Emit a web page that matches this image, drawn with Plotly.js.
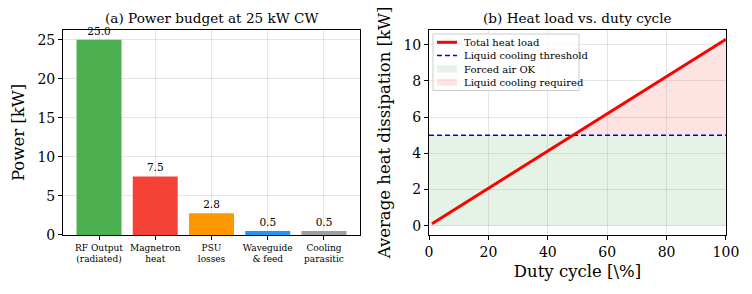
<!DOCTYPE html>
<html><head><meta charset="utf-8">
<script src="https://cdn.plot.ly/plotly-3.0.1.min.js"></script>
<style>body{margin:0}#c{width:752px;height:294px}</style>
</head><body><div id="c"></div>
<script>
const categories = ["RF Output<br>(radiated)", "Magnetron<br>heat", "PSU<br>losses", "Waveguide<br>& feed", "Cooling<br>parasitic"];
const powerKW = [25.0, 7.5, 2.8, 0.5, 0.5];
const barColors = ["#4caf50", "#f44336", "#ff9800", "#2196f3", "#9e9e9e"];
const dutyCycle = [1, 100];
const heatLoad = [0.103, 10.3];
const threshold = 5;
const legendLabels = ["Total heat load", "Liquid cooling threshold", "Forced air OK", "Liquid cooling required"];

const F = "DejaVu Serif";
const idx = categories.map((_, i) => i);
const xc = dutyCycle[0] + (threshold - heatLoad[0]) * (dutyCycle[1] - dutyCycle[0]) / (heatLoad[1] - heatLoad[0]);
const GREEN = "rgba(76,175,80,0.15)", PINK = "rgba(244,67,54,0.15)";
const BLUE = "#0000ee";

const traces = [
  {type: "bar", x: idx, y: powerKW, marker: {color: barColors}, width: 0.8,
   text: powerKW.map(v => v.toFixed(1)), textposition: "outside", cliponaxis: false,
   textfont: {family: F, size: 10.5, color: "#000"}, xaxis: "x", yaxis: "y", hoverinfo: "skip"},
  {type: "scatter", mode: "lines", x: [0, 100], y: [threshold, threshold], fill: "tozeroy",
   fillcolor: GREEN, line: {width: 0}, xaxis: "x2", yaxis: "y2"},
  {type: "scatter", mode: "lines", x: [xc, dutyCycle[1], dutyCycle[1]], y: [threshold, heatLoad[1], threshold], fill: "toself",
   fillcolor: PINK, line: {width: 0}, xaxis: "x2", yaxis: "y2"},
  {type: "scatter", mode: "lines", x: [0, 100], y: [threshold, threshold], line: {color: BLUE, width: 1.5, dash: "5px,3px"},
   xaxis: "x2", yaxis: "y2"},
  {type: "scatter", mode: "lines", x: dutyCycle, y: heatLoad, line: {color: "#ff0000", width: 3},
   xaxis: "x2", yaxis: "y2"}
];

const ax = {showline: true, mirror: true, linecolor: "#000", linewidth: 1, ticks: "outside", ticklen: 4,
  tickcolor: "#000", showgrid: true, gridcolor: "rgba(0,0,0,0.1)", gridwidth: 1, zeroline: false,
  tickfont: {family: F, size: 14, color: "#000"}};

const W = 752, H = 294;
const px = x => x / W, py = y => 1 - y / H;
const rowY = [42.3, 55.6, 69, 82.3];
const shapes = [
  {type: "rect", xref: "paper", yref: "paper", x0: px(433), x1: px(579), y0: py(34), y1: py(90.5),
   fillcolor: "rgba(255,255,255,0.8)", line: {color: "#cccccc", width: 1}},
  {type: "line", xref: "paper", yref: "paper", x0: px(437), x1: px(457), y0: py(rowY[0]), y1: py(rowY[0]),
   line: {color: "#ff0000", width: 3}},
  {type: "line", xref: "paper", yref: "paper", x0: px(437), x1: px(457), y0: py(rowY[1]), y1: py(rowY[1]),
   line: {color: BLUE, width: 1.5, dash: "5px,3px"}},
  {type: "rect", xref: "paper", yref: "paper", x0: px(437), x1: px(457), y0: py(rowY[2] - 3.5), y1: py(rowY[2] + 3.5),
   fillcolor: GREEN, line: {width: 0}},
  {type: "rect", xref: "paper", yref: "paper", x0: px(437), x1: px(457), y0: py(rowY[3] - 3.5), y1: py(rowY[3] + 3.5),
   fillcolor: PINK, line: {width: 0}}
];
const legendAnn = legendLabels.map((t, i) => ({text: t, xref: "paper", yref: "paper", x: px(462), y: py(rowY[i]),
  xanchor: "left", yanchor: "middle", showarrow: false, font: {family: F, size: 10, color: "#000"}}));

const layout = {
  width: W, height: H, margin: {l: 0, r: 0, t: 0, b: 0}, paper_bgcolor: "#fff", plot_bgcolor: "#fff",
  font: {family: F, color: "#000"}, showlegend: false,
  xaxis: Object.assign({}, ax, {domain: [0.0838, 0.4787], range: [-0.64, 4.64], tickvals: idx, ticktext: categories,
    tickfont: {family: F, size: 9, color: "#000"}}),
  yaxis: Object.assign({}, ax, {domain: [0.2007, 0.898], range: [0, 26.25], dtick: 5,
    title: {text: "Power [kW]", font: {family: F, size: 16.5}, standoff: 8}}),
  xaxis2: Object.assign({}, ax, {domain: [0.5705, 0.9654], range: [0, 100], dtick: 20, anchor: "y2",
    title: {text: "Duty cycle [\\%]", font: {family: F, size: 16.5}, standoff: 6}}),
  yaxis2: Object.assign({}, ax, {domain: [0.2007, 0.898], range: [-0.515, 10.815], dtick: 2, anchor: "x2",
    title: {text: "Average heat dissipation [kW]", font: {family: F, size: 16.5}, standoff: 8}}),
  shapes: shapes,
  annotations: [
    {text: "(a) Power budget at 25 kW CW", xref: "paper", yref: "paper", x: 0.2812, y: 0.905, xanchor: "center", yanchor: "bottom",
     showarrow: false, font: {family: F, size: 13.6}},
    {text: "(b) Heat load vs. duty cycle", xref: "paper", yref: "paper", x: 0.768, y: 0.905, xanchor: "center", yanchor: "bottom",
     showarrow: false, font: {family: F, size: 13.6}}
  ].concat(legendAnn)
};
Plotly.newPlot("c", traces, layout, {displayModeBar: false, staticPlot: true});
</script></body></html>
